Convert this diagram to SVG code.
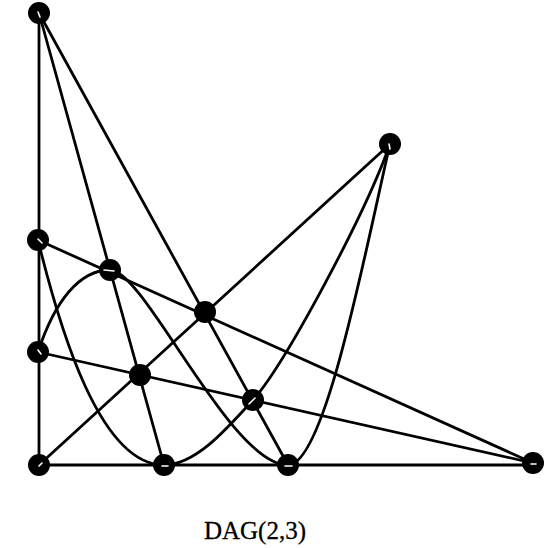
<svg xmlns="http://www.w3.org/2000/svg" width="544" height="548" viewBox="0 0 544 548">
<style>
.e{fill:none;stroke:#000;stroke-width:2.8;stroke-linecap:round}
.n{fill:#000}
.h{stroke:#fff;stroke-width:1.6;stroke-linecap:round}
.t{font-family:"Liberation Serif","Times New Roman",serif;font-size:25px;fill:#000;stroke:#000;stroke-width:0.3}
</style>
<rect width="544" height="548" fill="#fff"/>
<g id="connectors">
<line class="e" x1="39" y1="13" x2="39" y2="465"/>
<line class="e" x1="39" y1="465" x2="533" y2="465"/>
<line class="e" x1="39" y1="13" x2="164" y2="465"/>
<line class="e" x1="39" y1="13" x2="288" y2="465"/>
<line class="e" x1="39" y1="465" x2="390" y2="144"/>
<line class="e" x1="38" y1="240" x2="533" y2="463"/>
<line class="e" x1="38" y1="352" x2="533" y2="463"/>
<path class="e" d="M38,240 C60,330 100,465 164,465 C195,465 225,431 253,400 C285,364 365,215 390,144"/>
<path class="e" d="M38,352 C55,300 80,270 110,270 C145,270 230,465 288,465 C325,465 365,252 390,144"/>
</g>
<g id="A"><circle class="n" cx="39" cy="13" r="11"/><line class="h" x1="38" y1="12" x2="40" y2="17"/></g>
<g id="B"><circle class="n" cx="390" cy="144" r="11"/><line class="h" x1="389" y1="144" x2="390" y2="149"/></g>
<g id="C"><circle class="n" cx="38" cy="240" r="11"/><line class="h" x1="38" y1="239" x2="42" y2="243"/></g>
<g id="D"><circle class="n" cx="110" cy="270" r="11"/><line class="h" x1="104" y1="270" x2="114" y2="271"/></g>
<g id="E"><circle class="n" cx="205" cy="312" r="11"/></g>
<g id="F"><circle class="n" cx="38" cy="352" r="11"/><line class="h" x1="38" y1="350" x2="41" y2="354"/></g>
<g id="G"><circle class="n" cx="140" cy="375" r="11"/></g>
<g id="H"><circle class="n" cx="253" cy="400" r="11"/><line class="h" x1="249" y1="404" x2="255" y2="398"/></g>
<g id="I"><circle class="n" cx="39" cy="465" r="11"/><line class="h" x1="39" y1="466" x2="42" y2="463"/></g>
<g id="J"><circle class="n" cx="164" cy="465" r="11"/><line class="h" x1="162" y1="466" x2="168" y2="466"/></g>
<g id="K"><circle class="n" cx="288" cy="465" r="11"/><line class="h" x1="285" y1="466" x2="292" y2="466"/></g>
<g id="L"><circle class="n" cx="533" cy="463" r="11"/><line class="h" x1="531" y1="464" x2="536" y2="464"/></g>
<text class="t" x="255" y="539" text-anchor="middle">DAG(2,3)</text>
</svg>
